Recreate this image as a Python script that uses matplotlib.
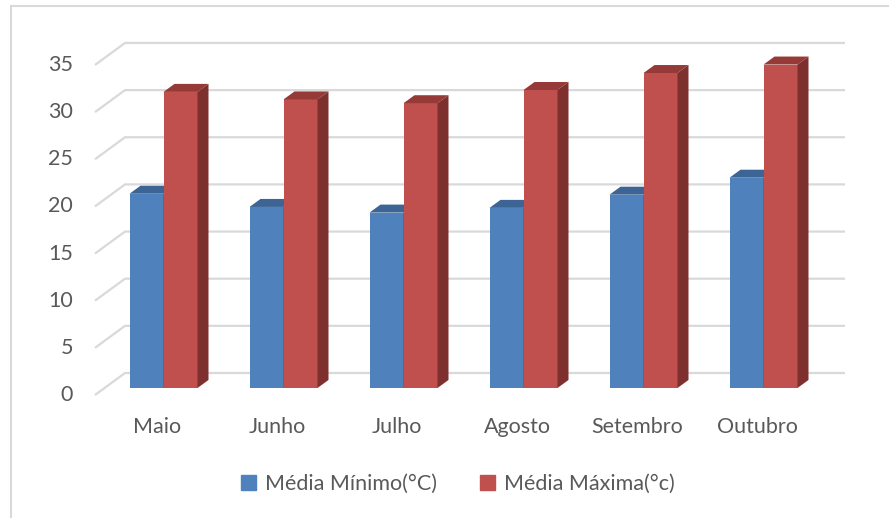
import matplotlib
matplotlib.use('Agg')
import matplotlib.pyplot as plt
import matplotlib.patches as mpatches
from matplotlib.lines import Line2D

plt.rcParams['font.family'] = ['Lato', 'DejaVu Sans']

months = ['Maio', 'Junho', 'Julho', 'Agosto', 'Setembro', 'Outubro']
media_min = [20.6, 19.2, 18.6, 19.1, 20.5, 22.3]
media_max = [31.4, 30.6, 30.2, 31.6, 33.4, 34.3]
series_names = ['Média Mínimo(°C)', 'Média Máxima(°c)']
yticks = [0, 5, 10, 15, 20, 25, 30, 35]

BLUE = '#4F81BD'
BLUE_TOP = '#3C6595'
BLUE_SIDE = '#345A87'
RED = '#C0504D'
RED_TOP = '#963A37'
RED_SIDE = '#7E302E'
GRID = '#D9D9D9'
TXT = '#595959'
FS = 15.5

W, H = 889, 518
fig = plt.figure(figsize=(W / 100, H / 100), dpi=100)
ax = fig.add_axes([0, 0, 1, 1])
ax.axis('off')

# data units: 1 category = 120 px, 1 degree = 9.43 px; bar front base at py=388
PX_X = 120.0
PX_Y = 9.43
X0 = 163.5
Y0 = 388
ax.set_xlim((0 - X0) / PX_X, (W - X0) / PX_X)
ax.set_ylim((Y0 - H) / PX_Y, Y0 / PX_Y)

def px(x):
    return (x - X0) / PX_X

def py(y):
    return (Y0 - y) / PX_Y

# 3d offsets (data units)
bw = 34 / PX_X
ddx = 11 / PX_X
ddy = 8 / PX_Y
front_dy = py(395)
back_dy = py(373)
front_x = px(95)
back_x = px(125)
back_right = px(845)

# back wall gridlines + side wall diagonals
for v in yticks:
    ax.plot([front_x, back_x, back_right], [v + front_dy, v + back_dy, v + back_dy],
            color=GRID, lw=1.6, zorder=1, solid_capstyle='butt')
    ax.text(px(73), v + front_dy, str(v), ha='right', va='center',
            fontsize=FS, color=TXT)

def bar3d(x, h, front, top, side):
    ax.bar(x, h, width=bw, align='edge', color=front, zorder=3, linewidth=0)
    ax.add_patch(mpatches.Polygon([(x, h), (x + ddx, h + ddy), (x + bw + ddx, h + ddy), (x + bw, h)],
                                  closed=True, facecolor=top, edgecolor='none', zorder=3))
    ax.add_patch(mpatches.Polygon([(x + bw, 0), (x + bw + ddx, ddy), (x + bw + ddx, h + ddy), (x + bw, h)],
                                  closed=True, facecolor=side, edgecolor='none', zorder=3))

for i, m in enumerate(months):
    bar3d(i - bw, media_min[i], BLUE, BLUE_TOP, BLUE_SIDE)
    bar3d(i, media_max[i], RED, RED_TOP, RED_SIDE)
    ax.text(i - 6.5 / PX_X, py(433), m, ha='center', va='baseline', fontsize=FS, color=TXT)

handles = [mpatches.Patch(color=BLUE), mpatches.Patch(color=RED)]
fig.legend(handles, series_names, loc='center', bbox_to_anchor=(458 / W, 1 - 484 / H),
           ncol=2, frameon=False, fontsize=FS, labelcolor=TXT,
           handlelength=0.7, handleheight=0.7, handletextpad=0.4, columnspacing=2.0)

# chart area border
fig.add_artist(Line2D([11 / W, 1], [1 - 6 / H, 1 - 6 / H], color=GRID, lw=1.5))
fig.add_artist(Line2D([11 / W, 11 / W], [0, 1 - 6 / H], color=GRID, lw=1.5))

plt.savefig('out.png', dpi=100)
plt.close()
